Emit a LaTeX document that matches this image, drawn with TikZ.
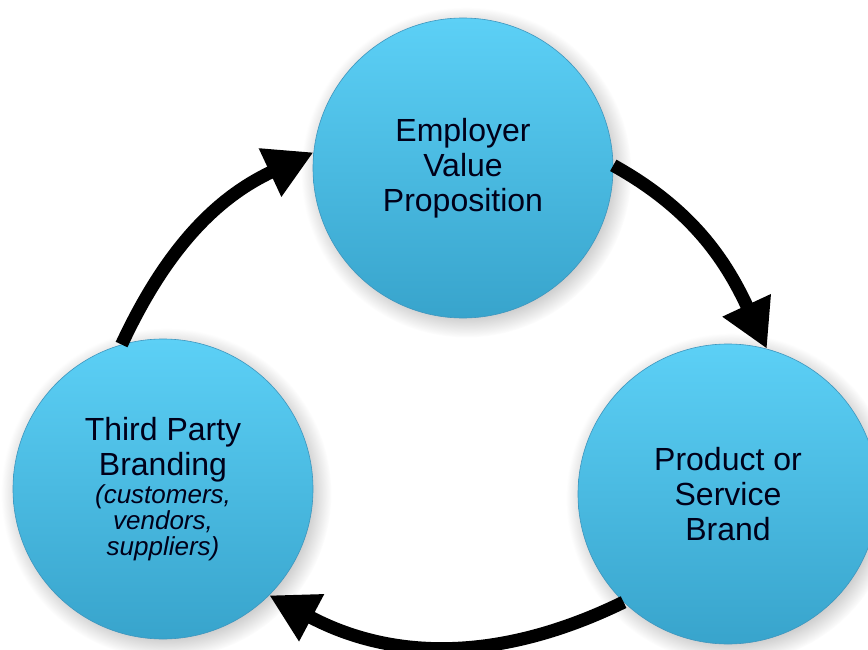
\documentclass[tikz,border=0pt]{standalone}
\usepackage{fontspec}
\setmainfont{Liberation Sans}
\usetikzlibrary{arrows.meta,shadows}
\definecolor{balltop}{RGB}{92,208,246}
\definecolor{ballbot}{RGB}{56,164,204}
\definecolor{ballrim}{RGB}{62,150,190}
\tikzset{
  ball/.style = {
    circle, minimum size=300pt, inner sep=0pt,
    top color=balltop, bottom color=ballbot, draw=ballrim, line width=0.6pt,
    circular drop shadow={shadow xshift=3pt, shadow yshift=-4pt, opacity=0.45},
    align=center, text=black!90!blue,
    font=\fontsize{32}{35}\selectfont
  },
  flow/.style = {
    line width=13pt, black,
    -{Triangle[length=48pt,width=50pt]}
  }
}
\newcommand{\sub}[1]{{\fontsize{26}{26}\itshape #1}}

\begin{document}
\begin{tikzpicture}[x=1pt,y=-1pt]
  \useasboundingbox (0,0) rectangle (868,650);
  % the three circles
  \node[ball] (epv) at (463,168) {Employer\\Value\\Proposition};
  \node[ball] (psb) at (728,494) {Product or\\Service\\Brand};
  \node[ball] (tpb) at (163,489) {Third Party\\Branding\\[-7pt]\sub{(customers,}\\[-9pt]\sub{vendors,}\\[-9pt]\sub{suppliers)}};
  % the cycle
  \draw[flow] (tpb.106) to[out=65,in=205] (epv.174);
  \draw[flow] (epv.1) to[out=-29,in=115] (psb.75);
  \draw[flow] (psb.226) to[out=206,in=-28] (tpb.315);
\end{tikzpicture}
\end{document}
